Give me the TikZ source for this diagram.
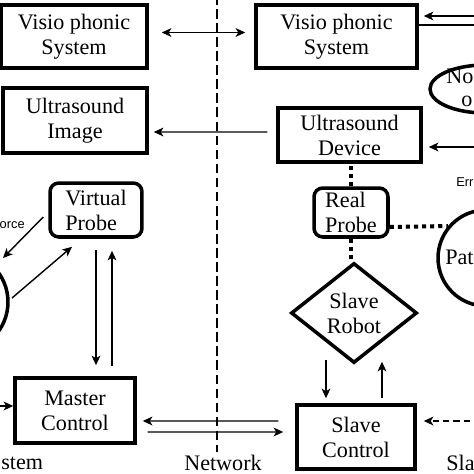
\documentclass[tikz,border=0pt]{standalone}
\usepackage{fontspec}
\setmainfont{Liberation Serif}
\newfontfamily\labelsans{Liberation Sans}
\usetikzlibrary{calc,shapes.geometric,arrows.meta}

\tikzset{
  >={Stealth[length=5.5pt,width=5pt,inset=1.5pt]},
  block/.style={draw, line width=2pt, align=center, inner sep=0pt, font=\fontsize{12.6}{14.2}\selectfont},
  probebox/.style={block, rounded corners=5pt, align=left},
  link/.style={line width=0.8pt, ->},
  dotlink/.style={line width=2.3pt, dash pattern=on 2.3pt off 2.3pt},
  sidetext/.style={inner sep=0pt, font=\fontsize{12.6}{14.2}\selectfont},
  smalltext/.style={inner sep=0pt, font=\labelsans\fontsize{7.3}{8.5}\selectfont},
}

\begin{document}
\begin{tikzpicture}[x=0.02cm, y=-0.02cm]
  \useasboundingbox (0,0) rectangle (474,474);
  \clip (0,0) rectangle (474,474);

  % network divider
  \draw[line width=0.7pt, dash pattern=on 5.5pt off 2.5pt] (217,-5) -- (217,452);
  \node[sidetext] (net) at (223,463) {Network};

  % master side
  \node[block, minimum width=2.92cm, minimum height=1.26cm] (vsL) at (74,36.5) {Visio phonic\\System};
  \node[block, minimum width=2.88cm, minimum height=1.30cm] (usI) at (75,120.5) {Ultrasound\\Image};
  \node[probebox, minimum width=1.84cm, minimum height=1.08cm] (vp) at (96,210) {Virtual\\Probe};
  \node[block, minimum width=2.4cm, minimum height=1.3cm] (mc) at (75,410.5) {Master\\Control};
  \node[draw, circle, line width=2pt, minimum size=2cm] (op) at (-42,302) {};
  \node[smalltext, anchor=east] (force) at (25,225) {orce};
  \node[sidetext, anchor=west] (msys) at (1,463) {stem};
  \coordinate (mIn) at (-5,406);

  % slave side
  \node[block, minimum width=3.22cm, minimum height=1.26cm] (vsR) at (336.5,36.5) {Visio phonic\\System};
  \node[block, minimum width=2.86cm, minimum height=1.08cm] (usD) at (349.5,135) {Ultrasound\\Device};
  \node[probebox, minimum width=1.48cm, minimum height=0.98cm] (rp) at (351,212.5) {Real\\Probe};
  \node[block, diamond, minimum width=2.52cm, minimum height=2cm] (sr) at (354,313) {Slave\\Robot};
  \node[block, minimum width=2.36cm, minimum height=1.28cm] (sc) at (356,437) {Slave\\Control};
  \node[draw, ellipse, line width=2pt, minimum width=2.2cm, minimum height=0.96cm] (noise) at (485,89) {};
  \node[sidetext, anchor=west] (noiseA) at (446,76) {No};
  \node[sidetext, anchor=west] (noiseB) at (461,101) {o};
  \node[draw, circle, line width=2pt, minimum size=1.92cm] (pat) at (486,258) {};
  \node[sidetext, anchor=west] (patText) at (445,257) {Pat};
  \node[smalltext, anchor=west] (err) at (456,182) {Err};
  \node[sidetext, anchor=west] (ssys) at (446,463) {Sla};
  \coordinate (rA) at (480,16);
  \coordinate (rB) at (480,25);
  \coordinate (rC) at (480,147);
  \coordinate (rD) at (480,421);

  % links across the network
  \draw[link, <->] ($(vsL.east)+(13,-4)$) -- ($(vsR.west)+(-9,-4)$);
  \draw[link] ($(usD.west)+(-9,-3)$) -- ($(usI.east)+(5,11.5)$);
  \draw[link] ($(sc.west)+(-17,-16)$) -- ($(mc.east)+(6,10.5)$);
  \draw[link] ($(mc.east)+(11,21.5)$) -- ($(sc.west)+(-12,-5)$);

  % master loop
  \draw[link] ($(vp.west)+(-5,7)$) -- ($(op)+(45,-44)$);
  \draw[link] ($(op)+(54,-4)$) -- ($(vp.south)+(-24,8)$);
  \draw[link] ($(vp.south)+(0,11)$) -- ($(mc.north)+(21,-11)$);
  \draw[link] ($(mc.north)+(37,-10)$) -- ($(vp.south)+(16,12)$);
  \draw[link] (mIn) -- ($(mc.west)+(0,-4.5)$);

  % slave loop
  \draw[link] (rA) -- ($(vsR.east)+(5,-20.5)$);
  \draw[line width=0.8pt] (rB) -- ($(vsR.east)+(0,-11.5)$);
  \draw[link] (rC) -- ($(usD.east)+(6,12)$);
  \draw[dotlink] (rp.north) -- (rp.north |- usD.south);
  \draw[dotlink] (rp.south) -- (rp.south |- sr.north);
  \draw[dotlink] ($(rp.east)+(0,14.5)$) -- (pat.140);
  \draw[link] ($(sr.south)+(-28,-5)$) -- ($(sc.north)+(-30,-5)$);
  \draw[link] ($(sc.north)+(26,-5)$) -- ($(sr.south)+(28,-3)$);
  \draw[link, dash pattern=on 3.5pt off 2.3pt] (rD) -- ($(sc.east)+(7,-16)$);

\end{tikzpicture}
\end{document}
